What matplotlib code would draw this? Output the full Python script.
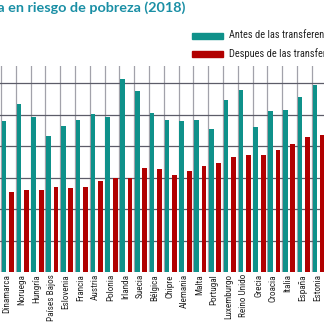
import matplotlib
matplotlib.use("Agg")
import matplotlib.pyplot as plt
from matplotlib import font_manager
from matplotlib.patches import Rectangle

# At-risk-of-poverty rate (%), 2018
paises = ["Dinamarca", "Noruega", "Hungría", "Países Bajos", "Eslovenia", "Francia",
          "Austria", "Polonia", "Irlanda", "Suecia", "Bélgica", "Chipre", "Alemania",
          "Malta", "Portugal", "Luxemburgo", "Reino Unido", "Grecia", "Croacia",
          "Italia", "España", "Estonia"]
antes = [24.0, 26.7, 24.7, 21.7, 23.2, 24.1, 25.2, 24.7, 30.7, 28.8, 25.3,
         24.1, 24.0, 24.1, 22.7, 27.3, 28.9, 23.1, 25.6, 25.8, 27.8, 29.8]
despues = [12.8, 13.1, 13.1, 13.5, 13.4, 13.5, 14.5, 14.9, 14.9, 16.5, 16.4,
           15.5, 16.1, 16.9, 17.3, 18.3, 18.6, 18.6, 19.4, 20.3, 21.4, 21.8]
leyenda = ["Antes de las transferencias sociales", "Despues de las transferencias sociales"]
titulo = "Tasa en riesgo de pobreza (2018)"
y_grid = [5, 10, 15, 20, 25, 30]

TEAL = "#0f918a"
RED = "#b10000"
TITLE_C = "#1a8fa5"

# pick a narrow face if one is installed
names = {f.name for f in font_manager.fontManager.ttflist}
narrow = None
for cand in ["Liberation Sans Narrow", "Roboto Condensed", "Open Sans Condensed",
             "Noto Sans Condensed", "DejaVu Sans Condensed", "Arial Narrow"]:
    if cand in names:
        narrow = cand
        break
if narrow is None:
    narrow = "Liberation Sans"

fig = plt.figure(figsize=(3.24, 3.24), dpi=100)
ax = fig.add_axes([0, (324 - 272.2) / 324, 1, (272.2 - 66) / 324])

n = len(paises)
xs = list(range(n))
ax.bar([x - 0.29 for x in xs], antes, width=0.32, color=TEAL, zorder=3)
ax.bar([x + 0.22 for x in xs], despues, width=0.32, color=RED, zorder=3)

ax.set_xlim(-0.5 - 1 / 14.8, 323 / 14.8 - 0.5)
ax.set_ylim(0, (272.2 - 66) / 6.296)

for v in y_grid:
    ax.axhline(v, color="#5c5c68", lw=0.9, zorder=2)
for i in range(n + 1):
    ax.axvline(i - 0.5, color="#a2a2aa", lw=0.9, zorder=1)

for s in ax.spines.values():
    s.set_visible(False)
ax.set_yticks([])
ax.set_xticks(xs)
ax.set_xticklabels([])
ax.tick_params(length=0)

for x, lab in zip(xs, paises):
    ax.text(x - 0.1, -0.3, lab, rotation=90, ha="center", va="top",
            fontsize=6.6, family=[narrow, "DejaVu Sans"], color="#222222",
            transform=ax.transData, clip_on=False)

# legend
fig.patches.append(Rectangle((192 / 324, 1 - 38.5 / 324), 31 / 324, 5.8 / 324,
                             transform=fig.transFigure, color=TEAL))
fig.patches.append(Rectangle((192 / 324, 1 - 57 / 324), 31 / 324, 5.8 / 324,
                             transform=fig.transFigure, color=RED))
fig.text(229 / 324, 1 - 35.5 / 324, leyenda[0], fontsize=7.5,
         family=[narrow, "DejaVu Sans"], color="#222222", va="center", ha="left")
fig.text(229 / 324, 1 - 54 / 324, leyenda[1], fontsize=7.5,
         family=[narrow, "DejaVu Sans"], color="#222222", va="center", ha="left")

fig.text(185 / 324, 1 - 8 / 324, titulo, fontsize=10.4, fontweight="bold",
         family=["Lato", "DejaVu Sans"], color=TITLE_C, ha="right", va="center")

fig.savefig("out.png", dpi=100)
